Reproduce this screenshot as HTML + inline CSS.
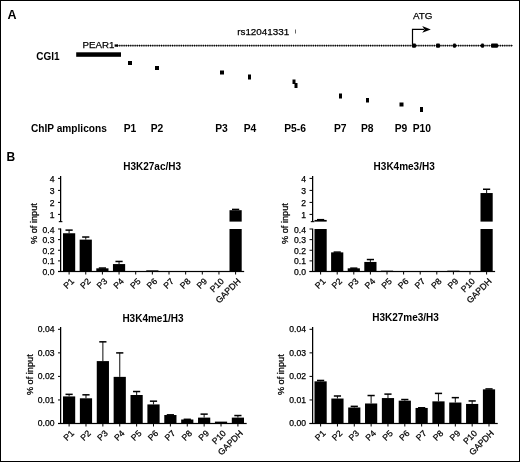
<!DOCTYPE html><html><head><meta charset="utf-8"><style>html,body{margin:0;padding:0;background:#fff;}svg{display:block;filter:grayscale(1);}text{font-family:"Liberation Sans",sans-serif;fill:#000;}text:not([font-weight]){stroke:#000;stroke-width:0.25px;}</style></head><body>
<svg width="520" height="462" viewBox="0 0 520 462">
<rect x="0" y="0" width="520" height="462" fill="#fff"/>
<rect x="0.5" y="0.5" width="519" height="461" fill="none" stroke="#000" stroke-width="1"/>
<text x="7.5" y="18.5" font-size="12.5" font-weight="bold">A</text>
<text x="36.2" y="59.9" font-size="10" font-weight="bold">CGI1</text>
<text x="82.6" y="48.2" font-size="9.7">PEAR1</text>
<rect x="76.2" y="52.3" width="44.8" height="4.5" fill="#000"/>
<rect x="115" y="45.1" width="398" height="1" fill="#777"/>
<line x1="117" y1="45.6" x2="513" y2="45.6" stroke="#000" stroke-width="1.7" stroke-dasharray="1.1 1.1"/>
<rect x="114.6" y="44.4" width="3.4" height="2.3" fill="#000"/>
<rect x="412" y="43.5" width="4" height="4.3" rx="1" fill="#000"/>
<rect x="436" y="43.5" width="4" height="4.3" rx="1" fill="#000"/>
<rect x="453" y="43.5" width="3" height="4.3" rx="1" fill="#000"/>
<rect x="481" y="43.5" width="3" height="4.3" rx="1" fill="#000"/>
<rect x="491" y="43.5" width="7" height="4.3" rx="1" fill="#000"/>
<text x="237.2" y="35" font-size="9.85">rs12041331</text>
<rect x="295" y="29.5" width="1" height="4" fill="#666"/>
<text x="412.9" y="18.7" font-size="9.9">ATG</text>
<path d="M412.5 45 V29.3 H424" fill="none" stroke="#000" stroke-width="1.2"/>
<path d="M422.2 25.9 L430.8 29.4 L422.2 32.8 L424.6 29.4 Z" fill="#000"/>
<rect x="128" y="61" width="4" height="4" fill="#000"/>
<rect x="155" y="66" width="4" height="4" fill="#000"/>
<rect x="220" y="70.5" width="4" height="4" fill="#000"/>
<rect x="248" y="74.5" width="3" height="5" fill="#000"/>
<rect x="292.5" y="79.5" width="3" height="4.5" fill="#000"/>
<rect x="294.5" y="83" width="3" height="5" fill="#000"/>
<rect x="339" y="93.5" width="3" height="5" fill="#000"/>
<rect x="366" y="98" width="3" height="4.5" fill="#000"/>
<rect x="399.5" y="102.5" width="4" height="4" fill="#000"/>
<rect x="420" y="107" width="3" height="5" fill="#000"/>
<text x="31" y="131.8" font-size="10.15" font-weight="bold">ChIP amplicons</text>
<text x="123.7" y="131.8" font-size="10.3" font-weight="bold">P1</text>
<text x="150.7" y="131.8" font-size="10.3" font-weight="bold">P2</text>
<text x="215.2" y="131.8" font-size="10.3" font-weight="bold">P3</text>
<text x="243.7" y="131.8" font-size="10.3" font-weight="bold">P4</text>
<text x="284.2" y="131.8" font-size="10.3" font-weight="bold">P5-6</text>
<text x="334" y="131.8" font-size="10.3" font-weight="bold">P7</text>
<text x="361" y="131.8" font-size="10.3" font-weight="bold">P8</text>
<text x="394.7" y="131.8" font-size="10.3" font-weight="bold">P9</text>
<text x="412.7" y="131.8" font-size="10.3" font-weight="bold">P10</text>
<text x="6.4" y="161" font-size="12" font-weight="bold">B</text>
<rect x="60" y="176" width="1.25" height="45.80000000000001" fill="#000"/>
<rect x="60" y="228.6" width="1.25" height="42.900000000000006" fill="#000"/>
<rect x="58.8" y="221.1" width="3.6" height="1.1" fill="#000"/>
<rect x="58" y="213.9" width="3" height="1" fill="#000"/>
<text x="54.5" y="217.9" font-size="8.6" text-anchor="end">1</text>
<rect x="58" y="201.9" width="3" height="1" fill="#000"/>
<text x="54.5" y="205.9" font-size="8.6" text-anchor="end">2</text>
<rect x="58" y="189.9" width="3" height="1" fill="#000"/>
<text x="54.5" y="193.9" font-size="8.6" text-anchor="end">3</text>
<rect x="58" y="177.9" width="3" height="1" fill="#000"/>
<text x="54.5" y="181.9" font-size="8.6" text-anchor="end">4</text>
<rect x="58" y="271.0" width="3" height="1" fill="#000"/>
<text x="54.5" y="275.0" font-size="8.6" text-anchor="end">0.0</text>
<rect x="58" y="260.375" width="3" height="1" fill="#000"/>
<text x="54.5" y="264.375" font-size="8.6" text-anchor="end">0.1</text>
<rect x="58" y="249.75" width="3" height="1" fill="#000"/>
<text x="54.5" y="253.75" font-size="8.6" text-anchor="end">0.2</text>
<rect x="58" y="239.125" width="3" height="1" fill="#000"/>
<text x="54.5" y="243.125" font-size="8.6" text-anchor="end">0.3</text>
<rect x="58" y="228.5" width="3" height="1" fill="#000"/>
<text x="54.5" y="232.5" font-size="8.6" text-anchor="end">0.4</text>
<text x="0" y="0" font-size="9.2" text-anchor="middle" transform="translate(36.8 223.6) rotate(-90)">% of input</text>
<text x="123.2" y="170.1" font-size="10" font-weight="bold">H3K27ac/H3</text>
<rect x="58" y="270.9" width="186.14999999999998" height="1.2" fill="#000"/>
<rect x="68.6" y="271.5" width="1" height="3" fill="#000"/>
<text x="74.6" y="281.8" font-size="8.7" text-anchor="end" transform="rotate(-45 74.6 281.8)">P1</text>
<rect x="85.25" y="271.5" width="1" height="3" fill="#000"/>
<text x="91.25" y="281.8" font-size="8.7" text-anchor="end" transform="rotate(-45 91.25 281.8)">P2</text>
<rect x="101.89999999999999" y="271.5" width="1" height="3" fill="#000"/>
<text x="107.89999999999999" y="281.8" font-size="8.7" text-anchor="end" transform="rotate(-45 107.89999999999999 281.8)">P3</text>
<rect x="118.54999999999998" y="271.5" width="1" height="3" fill="#000"/>
<text x="124.54999999999998" y="281.8" font-size="8.7" text-anchor="end" transform="rotate(-45 124.54999999999998 281.8)">P4</text>
<rect x="135.2" y="271.5" width="1" height="3" fill="#000"/>
<text x="141.2" y="281.8" font-size="8.7" text-anchor="end" transform="rotate(-45 141.2 281.8)">P5</text>
<rect x="151.85" y="271.5" width="1" height="3" fill="#000"/>
<text x="157.85" y="281.8" font-size="8.7" text-anchor="end" transform="rotate(-45 157.85 281.8)">P6</text>
<rect x="168.49999999999997" y="271.5" width="1" height="3" fill="#000"/>
<text x="174.49999999999997" y="281.8" font-size="8.7" text-anchor="end" transform="rotate(-45 174.49999999999997 281.8)">P7</text>
<rect x="185.14999999999998" y="271.5" width="1" height="3" fill="#000"/>
<text x="191.14999999999998" y="281.8" font-size="8.7" text-anchor="end" transform="rotate(-45 191.14999999999998 281.8)">P8</text>
<rect x="201.79999999999998" y="271.5" width="1" height="3" fill="#000"/>
<text x="207.79999999999998" y="281.8" font-size="8.7" text-anchor="end" transform="rotate(-45 207.79999999999998 281.8)">P9</text>
<rect x="218.45" y="271.5" width="1" height="3" fill="#000"/>
<text x="224.45" y="281.8" font-size="8.7" text-anchor="end" transform="rotate(-45 224.45 281.8)">P10</text>
<rect x="235.1" y="271.5" width="1" height="3" fill="#000"/>
<text x="241.1" y="281.8" font-size="8.7" text-anchor="end" transform="rotate(-45 241.1 281.8)">GAPDH</text>
<rect x="68.55" y="230.0625" width="1.1" height="3.1875" fill="#222"/>
<rect x="65.5" y="229.3625" width="7.2" height="1.5" fill="#000"/>
<rect x="63.0" y="233.25" width="12.2" height="38.25" fill="#000"/>
<rect x="85.2" y="236.96875" width="1.1" height="2.65625" fill="#222"/>
<rect x="82.15" y="236.26875" width="7.2" height="1.5" fill="#000"/>
<rect x="79.65" y="239.625" width="12.2" height="31.875" fill="#000"/>
<rect x="101.85" y="267.99375" width="1.1" height="0.31875000000002274" fill="#222"/>
<rect x="98.8" y="267.29375" width="7.2" height="1.5" fill="#000"/>
<rect x="96.3" y="268.3125" width="12.2" height="3.1875" fill="#000"/>
<rect x="118.49999999999999" y="261.40625" width="1.1" height="2.65625" fill="#222"/>
<rect x="115.44999999999999" y="260.70625" width="7.2" height="1.5" fill="#000"/>
<rect x="112.94999999999999" y="264.0625" width="12.2" height="7.4375" fill="#000"/>
<rect x="146.25" y="270.33125" width="12.2" height="1.1687499999999886" fill="#000"/>
<rect x="235.04999999999998" y="209.36" width="1.1" height="0.839999999999975" fill="#222"/>
<rect x="232.0" y="208.66000000000003" width="7.2" height="1.5" fill="#000"/>
<rect x="229.5" y="210.2" width="12.2" height="11.400000000000006" fill="#000"/>
<rect x="229.5" y="229.0" width="12.2" height="42.5" fill="#000"/>
<rect x="312" y="176" width="1.25" height="45.80000000000001" fill="#000"/>
<rect x="312" y="228.6" width="1.25" height="42.900000000000006" fill="#000"/>
<rect x="310.8" y="221.1" width="3.6" height="1.1" fill="#000"/>
<rect x="309.5" y="213.9" width="3" height="1" fill="#000"/>
<text x="306.0" y="217.9" font-size="8.6" text-anchor="end">1</text>
<rect x="309.5" y="201.9" width="3" height="1" fill="#000"/>
<text x="306.0" y="205.9" font-size="8.6" text-anchor="end">2</text>
<rect x="309.5" y="189.9" width="3" height="1" fill="#000"/>
<text x="306.0" y="193.9" font-size="8.6" text-anchor="end">3</text>
<rect x="309.5" y="177.9" width="3" height="1" fill="#000"/>
<text x="306.0" y="181.9" font-size="8.6" text-anchor="end">4</text>
<rect x="309.5" y="271.0" width="3" height="1" fill="#000"/>
<text x="306.0" y="275.0" font-size="8.6" text-anchor="end">0.0</text>
<rect x="309.5" y="260.375" width="3" height="1" fill="#000"/>
<text x="306.0" y="264.375" font-size="8.6" text-anchor="end">0.1</text>
<rect x="309.5" y="249.75" width="3" height="1" fill="#000"/>
<text x="306.0" y="253.75" font-size="8.6" text-anchor="end">0.2</text>
<rect x="309.5" y="239.125" width="3" height="1" fill="#000"/>
<text x="306.0" y="243.125" font-size="8.6" text-anchor="end">0.3</text>
<rect x="309.5" y="228.5" width="3" height="1" fill="#000"/>
<text x="306.0" y="232.5" font-size="8.6" text-anchor="end">0.4</text>
<text x="0" y="0" font-size="9.2" text-anchor="middle" transform="translate(288.3 223.6) rotate(-90)">% of input</text>
<text x="373.6" y="170.3" font-size="10" font-weight="bold">H3K4me3/H3</text>
<rect x="309.5" y="270.9" width="185.60000000000002" height="1.2" fill="#000"/>
<rect x="320.1" y="271.5" width="1" height="3" fill="#000"/>
<text x="326.1" y="281.8" font-size="8.7" text-anchor="end" transform="rotate(-45 326.1 281.8)">P1</text>
<rect x="336.70000000000005" y="271.5" width="1" height="3" fill="#000"/>
<text x="342.70000000000005" y="281.8" font-size="8.7" text-anchor="end" transform="rotate(-45 342.70000000000005 281.8)">P2</text>
<rect x="353.3" y="271.5" width="1" height="3" fill="#000"/>
<text x="359.3" y="281.8" font-size="8.7" text-anchor="end" transform="rotate(-45 359.3 281.8)">P3</text>
<rect x="369.90000000000003" y="271.5" width="1" height="3" fill="#000"/>
<text x="375.90000000000003" y="281.8" font-size="8.7" text-anchor="end" transform="rotate(-45 375.90000000000003 281.8)">P4</text>
<rect x="386.5" y="271.5" width="1" height="3" fill="#000"/>
<text x="392.5" y="281.8" font-size="8.7" text-anchor="end" transform="rotate(-45 392.5 281.8)">P5</text>
<rect x="403.1" y="271.5" width="1" height="3" fill="#000"/>
<text x="409.1" y="281.8" font-size="8.7" text-anchor="end" transform="rotate(-45 409.1 281.8)">P6</text>
<rect x="419.70000000000005" y="271.5" width="1" height="3" fill="#000"/>
<text x="425.70000000000005" y="281.8" font-size="8.7" text-anchor="end" transform="rotate(-45 425.70000000000005 281.8)">P7</text>
<rect x="436.30000000000007" y="271.5" width="1" height="3" fill="#000"/>
<text x="442.30000000000007" y="281.8" font-size="8.7" text-anchor="end" transform="rotate(-45 442.30000000000007 281.8)">P8</text>
<rect x="452.90000000000003" y="271.5" width="1" height="3" fill="#000"/>
<text x="458.90000000000003" y="281.8" font-size="8.7" text-anchor="end" transform="rotate(-45 458.90000000000003 281.8)">P9</text>
<rect x="469.5" y="271.5" width="1" height="3" fill="#000"/>
<text x="475.5" y="281.8" font-size="8.7" text-anchor="end" transform="rotate(-45 475.5 281.8)">P10</text>
<rect x="486.1" y="271.5" width="1" height="3" fill="#000"/>
<text x="492.1" y="281.8" font-size="8.7" text-anchor="end" transform="rotate(-45 492.1 281.8)">GAPDH</text>
<rect x="320.05" y="219.62" width="1.1" height="0.30000000000001137" fill="#222"/>
<rect x="317.0" y="218.92000000000002" width="7.2" height="1.5" fill="#000"/>
<rect x="314.5" y="219.92000000000002" width="12.2" height="1.6799999999999784" fill="#000"/>
<rect x="314.5" y="229.0" width="12.2" height="42.5" fill="#000"/>
<rect x="336.65000000000003" y="252.05625" width="1.1" height="0.3187499999999943" fill="#222"/>
<rect x="333.6" y="251.35625000000002" width="7.2" height="1.5" fill="#000"/>
<rect x="331.1" y="252.375" width="12.2" height="19.125" fill="#000"/>
<rect x="353.25" y="268.1" width="1.1" height="0.21249999999997726" fill="#222"/>
<rect x="350.2" y="267.40000000000003" width="7.2" height="1.5" fill="#000"/>
<rect x="347.7" y="268.3125" width="12.2" height="3.1875" fill="#000"/>
<rect x="369.85" y="259.49375" width="1.1" height="2.4437500000000227" fill="#222"/>
<rect x="366.8" y="258.79375" width="7.2" height="1.5" fill="#000"/>
<rect x="364.3" y="261.9375" width="12.2" height="9.5625" fill="#000"/>
<rect x="380.9" y="270.65" width="12.2" height="0.8500000000000227" fill="#000"/>
<rect x="447.3" y="270.65" width="12.2" height="0.8500000000000227" fill="#000"/>
<rect x="486.05" y="189.2" width="1.1" height="3.840000000000032" fill="#222"/>
<rect x="483.0" y="188.5" width="7.2" height="1.5" fill="#000"/>
<rect x="480.5" y="193.04000000000002" width="12.2" height="28.559999999999974" fill="#000"/>
<rect x="480.5" y="229.0" width="12.2" height="42.5" fill="#000"/>
<rect x="60" y="327" width="1.25" height="96.5" fill="#000"/>
<rect x="58" y="423.0" width="3" height="1" fill="#000"/>
<text x="54.5" y="426.4" font-size="8.6" text-anchor="end">0.00</text>
<rect x="58" y="399.45" width="3" height="1" fill="#000"/>
<text x="54.5" y="402.84999999999997" font-size="8.6" text-anchor="end">0.01</text>
<rect x="58" y="375.9" width="3" height="1" fill="#000"/>
<text x="54.5" y="379.29999999999995" font-size="8.6" text-anchor="end">0.02</text>
<rect x="58" y="352.35" width="3" height="1" fill="#000"/>
<text x="54.5" y="355.75" font-size="8.6" text-anchor="end">0.03</text>
<rect x="58" y="328.8" width="3" height="1" fill="#000"/>
<text x="54.5" y="332.2" font-size="8.6" text-anchor="end">0.04</text>
<text x="0" y="0" font-size="9.2" text-anchor="middle" transform="translate(32.7 374.7) rotate(-90)">% of input</text>
<text x="122.4" y="321.5" font-size="10" font-weight="bold">H3K4me1/H3</text>
<rect x="58" y="422.9" width="188.67999999999998" height="1.2" fill="#000"/>
<rect x="68.6" y="423.5" width="1" height="3" fill="#000"/>
<text x="74.6" y="433.8" font-size="8.7" text-anchor="end" transform="rotate(-45 74.6 433.8)">P1</text>
<rect x="85.47999999999999" y="423.5" width="1" height="3" fill="#000"/>
<text x="91.47999999999999" y="433.8" font-size="8.7" text-anchor="end" transform="rotate(-45 91.47999999999999 433.8)">P2</text>
<rect x="102.35999999999999" y="423.5" width="1" height="3" fill="#000"/>
<text x="108.35999999999999" y="433.8" font-size="8.7" text-anchor="end" transform="rotate(-45 108.35999999999999 433.8)">P3</text>
<rect x="119.24" y="423.5" width="1" height="3" fill="#000"/>
<text x="125.24" y="433.8" font-size="8.7" text-anchor="end" transform="rotate(-45 125.24 433.8)">P4</text>
<rect x="136.11999999999998" y="423.5" width="1" height="3" fill="#000"/>
<text x="142.11999999999998" y="433.8" font-size="8.7" text-anchor="end" transform="rotate(-45 142.11999999999998 433.8)">P5</text>
<rect x="152.99999999999997" y="423.5" width="1" height="3" fill="#000"/>
<text x="158.99999999999997" y="433.8" font-size="8.7" text-anchor="end" transform="rotate(-45 158.99999999999997 433.8)">P6</text>
<rect x="169.88" y="423.5" width="1" height="3" fill="#000"/>
<text x="175.88" y="433.8" font-size="8.7" text-anchor="end" transform="rotate(-45 175.88 433.8)">P7</text>
<rect x="186.76" y="423.5" width="1" height="3" fill="#000"/>
<text x="192.76" y="433.8" font-size="8.7" text-anchor="end" transform="rotate(-45 192.76 433.8)">P8</text>
<rect x="203.64" y="423.5" width="1" height="3" fill="#000"/>
<text x="209.64" y="433.8" font-size="8.7" text-anchor="end" transform="rotate(-45 209.64 433.8)">P9</text>
<rect x="220.51999999999998" y="423.5" width="1" height="3" fill="#000"/>
<text x="226.51999999999998" y="433.8" font-size="8.7" text-anchor="end" transform="rotate(-45 226.51999999999998 433.8)">P10</text>
<rect x="237.39999999999998" y="423.5" width="1" height="3" fill="#000"/>
<text x="243.39999999999998" y="433.8" font-size="8.7" text-anchor="end" transform="rotate(-45 243.39999999999998 433.8)">GAPDH</text>
<rect x="68.55" y="394.298" width="1.1" height="2.1195000000000164" fill="#222"/>
<rect x="65.5" y="393.598" width="7.2" height="1.5" fill="#000"/>
<rect x="63.0" y="396.4175" width="12.2" height="27.082499999999982" fill="#000"/>
<rect x="85.42999999999999" y="394.769" width="1.1" height="3.5324999999999704" fill="#222"/>
<rect x="82.38" y="394.069" width="7.2" height="1.5" fill="#000"/>
<rect x="79.88" y="398.3015" width="12.2" height="25.198500000000024" fill="#000"/>
<rect x="102.30999999999999" y="341.7815" width="1.1" height="19.31099999999998" fill="#222"/>
<rect x="99.25999999999999" y="341.0815" width="7.2" height="1.5" fill="#000"/>
<rect x="96.75999999999999" y="361.0925" width="12.2" height="62.40750000000003" fill="#000"/>
<rect x="119.19" y="352.85" width="1.1" height="24.020999999999958" fill="#222"/>
<rect x="116.14" y="352.15000000000003" width="7.2" height="1.5" fill="#000"/>
<rect x="113.64" y="376.871" width="12.2" height="46.62900000000002" fill="#000"/>
<rect x="136.06999999999996" y="391.472" width="1.1" height="3.5325000000000273" fill="#222"/>
<rect x="133.01999999999998" y="390.772" width="7.2" height="1.5" fill="#000"/>
<rect x="130.51999999999998" y="395.0045" width="12.2" height="28.495499999999993" fill="#000"/>
<rect x="152.94999999999996" y="401.1275" width="1.1" height="3.2970000000000255" fill="#222"/>
<rect x="149.89999999999998" y="400.4275" width="7.2" height="1.5" fill="#000"/>
<rect x="147.39999999999998" y="404.4245" width="12.2" height="19.075499999999977" fill="#000"/>
<rect x="169.82999999999998" y="414.7865" width="1.1" height="0.23550000000000182" fill="#222"/>
<rect x="166.78" y="414.0865" width="7.2" height="1.5" fill="#000"/>
<rect x="164.28" y="415.022" width="12.2" height="8.478000000000009" fill="#000"/>
<rect x="186.70999999999998" y="419.261" width="1.1" height="0.23550000000000182" fill="#222"/>
<rect x="183.66" y="418.56100000000004" width="7.2" height="1.5" fill="#000"/>
<rect x="181.16" y="419.4965" width="12.2" height="4.003499999999974" fill="#000"/>
<rect x="203.58999999999997" y="414.08" width="1.1" height="3.5325000000000273" fill="#222"/>
<rect x="200.54" y="413.38" width="7.2" height="1.5" fill="#000"/>
<rect x="198.04" y="417.6125" width="12.2" height="5.887499999999989" fill="#000"/>
<rect x="214.92" y="421.616" width="12.2" height="1.8840000000000146" fill="#000"/>
<rect x="237.34999999999997" y="415.493" width="1.1" height="2.1195000000000164" fill="#222"/>
<rect x="234.29999999999998" y="414.793" width="7.2" height="1.5" fill="#000"/>
<rect x="231.79999999999998" y="417.6125" width="12.2" height="5.887499999999989" fill="#000"/>
<rect x="312" y="327" width="1.25" height="96.5" fill="#000"/>
<rect x="309.5" y="423.0" width="3" height="1" fill="#000"/>
<text x="306.0" y="426.4" font-size="8.6" text-anchor="end">0.00</text>
<rect x="309.5" y="399.45" width="3" height="1" fill="#000"/>
<text x="306.0" y="402.84999999999997" font-size="8.6" text-anchor="end">0.01</text>
<rect x="309.5" y="375.9" width="3" height="1" fill="#000"/>
<text x="306.0" y="379.29999999999995" font-size="8.6" text-anchor="end">0.02</text>
<rect x="309.5" y="352.35" width="3" height="1" fill="#000"/>
<text x="306.0" y="355.75" font-size="8.6" text-anchor="end">0.03</text>
<rect x="309.5" y="328.8" width="3" height="1" fill="#000"/>
<text x="306.0" y="332.2" font-size="8.6" text-anchor="end">0.04</text>
<text x="0" y="0" font-size="9.2" text-anchor="middle" transform="translate(284.2 374.7) rotate(-90)">% of input</text>
<text x="372.2" y="321.2" font-size="10" font-weight="bold">H3K27me3/H3</text>
<rect x="309.5" y="422.9" width="188.24" height="1.2" fill="#000"/>
<rect x="320.1" y="423.5" width="1" height="3" fill="#000"/>
<text x="326.1" y="433.8" font-size="8.7" text-anchor="end" transform="rotate(-45 326.1 433.8)">P1</text>
<rect x="336.94" y="423.5" width="1" height="3" fill="#000"/>
<text x="342.94" y="433.8" font-size="8.7" text-anchor="end" transform="rotate(-45 342.94 433.8)">P2</text>
<rect x="353.78000000000003" y="423.5" width="1" height="3" fill="#000"/>
<text x="359.78000000000003" y="433.8" font-size="8.7" text-anchor="end" transform="rotate(-45 359.78000000000003 433.8)">P3</text>
<rect x="370.62" y="423.5" width="1" height="3" fill="#000"/>
<text x="376.62" y="433.8" font-size="8.7" text-anchor="end" transform="rotate(-45 376.62 433.8)">P4</text>
<rect x="387.46000000000004" y="423.5" width="1" height="3" fill="#000"/>
<text x="393.46000000000004" y="433.8" font-size="8.7" text-anchor="end" transform="rotate(-45 393.46000000000004 433.8)">P5</text>
<rect x="404.3" y="423.5" width="1" height="3" fill="#000"/>
<text x="410.3" y="433.8" font-size="8.7" text-anchor="end" transform="rotate(-45 410.3 433.8)">P6</text>
<rect x="421.14" y="423.5" width="1" height="3" fill="#000"/>
<text x="427.14" y="433.8" font-size="8.7" text-anchor="end" transform="rotate(-45 427.14 433.8)">P7</text>
<rect x="437.98" y="423.5" width="1" height="3" fill="#000"/>
<text x="443.98" y="433.8" font-size="8.7" text-anchor="end" transform="rotate(-45 443.98 433.8)">P8</text>
<rect x="454.82000000000005" y="423.5" width="1" height="3" fill="#000"/>
<text x="460.82000000000005" y="433.8" font-size="8.7" text-anchor="end" transform="rotate(-45 460.82000000000005 433.8)">P9</text>
<rect x="471.66" y="423.5" width="1" height="3" fill="#000"/>
<text x="477.66" y="433.8" font-size="8.7" text-anchor="end" transform="rotate(-45 477.66 433.8)">P10</text>
<rect x="488.5" y="423.5" width="1" height="3" fill="#000"/>
<text x="494.5" y="433.8" font-size="8.7" text-anchor="end" transform="rotate(-45 494.5 433.8)">GAPDH</text>
<rect x="320.05" y="380.4035" width="1.1" height="0.9420000000000073" fill="#222"/>
<rect x="317.0" y="379.7035" width="7.2" height="1.5" fill="#000"/>
<rect x="314.5" y="381.3455" width="12.2" height="42.154499999999985" fill="#000"/>
<rect x="336.89" y="395.9465" width="1.1" height="2.590499999999963" fill="#222"/>
<rect x="333.84" y="395.2465" width="7.2" height="1.5" fill="#000"/>
<rect x="331.34" y="398.537" width="12.2" height="24.963000000000022" fill="#000"/>
<rect x="353.73" y="406.3085" width="1.1" height="1.177500000000009" fill="#222"/>
<rect x="350.68" y="405.6085" width="7.2" height="1.5" fill="#000"/>
<rect x="348.18" y="407.486" width="12.2" height="16.01400000000001" fill="#000"/>
<rect x="370.57" y="395.4755" width="1.1" height="8.007000000000005" fill="#222"/>
<rect x="367.52" y="394.7755" width="7.2" height="1.5" fill="#000"/>
<rect x="365.02" y="403.4825" width="12.2" height="20.017499999999984" fill="#000"/>
<rect x="387.41" y="394.0625" width="1.1" height="4.003499999999974" fill="#222"/>
<rect x="384.36" y="393.3625" width="7.2" height="1.5" fill="#000"/>
<rect x="381.86" y="398.066" width="12.2" height="25.434000000000026" fill="#000"/>
<rect x="404.25" y="399.479" width="1.1" height="1.177500000000009" fill="#222"/>
<rect x="401.2" y="398.779" width="7.2" height="1.5" fill="#000"/>
<rect x="398.7" y="400.6565" width="12.2" height="22.843500000000006" fill="#000"/>
<rect x="421.09" y="407.7215" width="1.1" height="0.23550000000000182" fill="#222"/>
<rect x="418.03999999999996" y="407.0215" width="7.2" height="1.5" fill="#000"/>
<rect x="415.53999999999996" y="407.957" width="12.2" height="15.543000000000006" fill="#000"/>
<rect x="437.93" y="393.356" width="1.1" height="8.007000000000005" fill="#222"/>
<rect x="434.88" y="392.656" width="7.2" height="1.5" fill="#000"/>
<rect x="432.38" y="401.363" width="12.2" height="22.137" fill="#000"/>
<rect x="454.77000000000004" y="397.595" width="1.1" height="4.945499999999981" fill="#222"/>
<rect x="451.72" y="396.89500000000004" width="7.2" height="1.5" fill="#000"/>
<rect x="449.22" y="402.5405" width="12.2" height="20.95949999999999" fill="#000"/>
<rect x="471.61" y="400.892" width="1.1" height="3.0615000000000236" fill="#222"/>
<rect x="468.56" y="400.192" width="7.2" height="1.5" fill="#000"/>
<rect x="466.06" y="403.9535" width="12.2" height="19.54649999999998" fill="#000"/>
<rect x="488.45" y="388.8815" width="1.1" height="0.47100000000000364" fill="#222"/>
<rect x="485.4" y="388.1815" width="7.2" height="1.5" fill="#000"/>
<rect x="482.9" y="389.3525" width="12.2" height="34.14749999999998" fill="#000"/>
</svg></body></html>
